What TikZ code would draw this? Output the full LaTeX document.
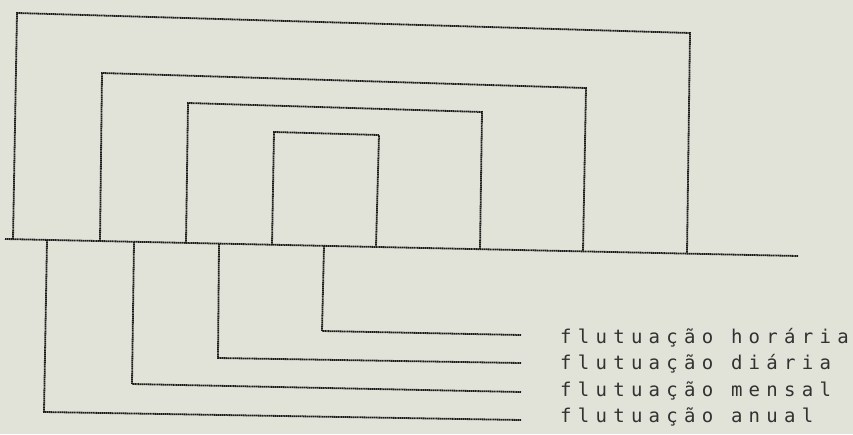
\documentclass[tikz,border=0pt]{standalone}
\usepackage{fontspec}
\newfontfamily\dotfont[LetterSpace=33]{DejaVu Sans Mono}
\definecolor{paper}{RGB}{226,227,216}
\definecolor{ink}{RGB}{25,25,25}
\definecolor{textink}{RGB}{50,50,50}
\begin{document}
\begin{tikzpicture}[x=1pt,y=-1pt,
  dotline/.style={draw=ink,line width=1.8pt,dash pattern=on 1.4pt off 0.5pt},
  lbl/.style={anchor=base west,inner sep=0pt,text=textink,font=\dotfont\fontsize{19}{21}\selectfont}]
\fill[paper] (0,0) rectangle (853,434);
\useasboundingbox (0,0) rectangle (853,434);
% baseline
\coordinate (b0) at (5,239);
\coordinate (b1) at (798,256);
\draw[dotline] (b0) -- (b1);
% upper brackets
\coordinate (o1) at (13,239.2);  \coordinate (o2) at (17,13);  \coordinate (o3) at (690,33);  \coordinate (o4) at (687,253);
\coordinate (m1) at (100,241);   \coordinate (m2) at (102,73);  \coordinate (m3) at (586,88);  \coordinate (m4) at (583,251);
\coordinate (d1) at (186,243);   \coordinate (d2) at (188,103); \coordinate (d3) at (482,112); \coordinate (d4) at (480,249);
\coordinate (h1) at (272,245);   \coordinate (h2) at (274,132); \coordinate (h3) at (379,135); \coordinate (h4) at (376,246);
\draw[dotline] (o1) -- (o2) -- (o3) -- (o4);
\draw[dotline] (m1) -- (m2) -- (m3) -- (m4);
\draw[dotline] (d1) -- (d2) -- (d3) -- (d4);
\draw[dotline] (h1) -- (h2) -- (h3) -- (h4);
% labels
\node[lbl] (th) at (560,343) {flutuação horária};
\node[lbl] (td) at (560,369) {flutuação diária};
\node[lbl] (tm) at (560,396) {flutuação mensal};
\node[lbl] (ta) at (560,422) {flutuação anual};
% lower brackets
\coordinate (A1) at (47,240);  \coordinate (A2) at (44,412);  \coordinate (A3) at (521,420);
\coordinate (B1) at (134,242); \coordinate (B2) at (132,384); \coordinate (B3) at (521,392);
\coordinate (C1) at (219,244); \coordinate (C2) at (218,358); \coordinate (C3) at (521,363);
\coordinate (D1) at (324,246); \coordinate (D2) at (322,331); \coordinate (D3) at (521,335);
\draw[dotline] (A1) -- (A2) -- (A3);
\draw[dotline] (B1) -- (B2) -- (B3);
\draw[dotline] (C1) -- (C2) -- (C3);
\draw[dotline] (D1) -- (D2) -- (D3);
\end{tikzpicture}
\end{document}
